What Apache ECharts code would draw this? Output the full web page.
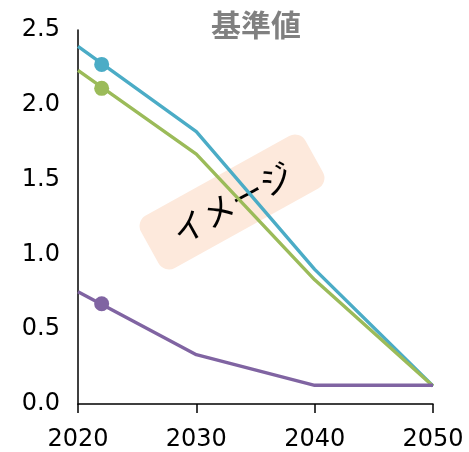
<!DOCTYPE html>
<html>
<head>
<meta charset="utf-8">
<script src="https://cdn.jsdelivr.net/npm/echarts@6/dist/echarts.min.js"></script>
<style>
    html, body { margin: 0; padding: 0; background: #ffffff; }
    #chart { width: 469px; height: 452px; }
</style>
</head>
<body>
<div id="chart"></div>
<script>
const years = [2020, 2030, 2040, 2050];
const blueValues = [2.39, 1.82, 0.9, 0.12];
const greenValues = [2.23, 1.67, 0.83, 0.12];
const purpleValues = [0.75, 0.33, 0.125, 0.125];

const markerYear = 2022;
const markerValues = [2.27, 2.11, 0.67];

const colors = ["#4bacc6", "#9bbb59", "#8064a2"];
const FONT = "DejaVu Sans, Verdana, sans-serif";

function toPairs(values) {
    return years.map((year, i) => [year, values[i]]);
}

function lineSeries(values, color) {
    return {
        type: "line",
        data: toPairs(values),
        symbol: "none",
        lineStyle: { color: color, width: 3.4 },
        itemStyle: { color: color },
        silent: true,
        z: 2,
    };
}

const chart = echarts.init(document.getElementById("chart"));

chart.setOption({
    backgroundColor: "#ffffff",
    animation: false,
    title: {
        text: "基準値",
        left: 251,
        top: 5,
        textAlign: "center",
        textStyle: {
            color: "#808080",
            fontSize: 30,
            fontWeight: "bold",
            fontFamily: "Noto Sans CJK JP",
        },
    },
    grid: { left: 78, right: 36, top: 30, bottom: 47 },
    xAxis: {
        type: "value",
        min: 2020,
        max: 2050,
        interval: 10,
        axisLine: { lineStyle: { color: "#000000", width: 1.5 } },
        axisTick: { show: true, length: 9, lineStyle: { color: "#000000", width: 1.5 } },
        axisLabel: {
            color: "#000000",
            fontSize: 24,
            fontFamily: FONT,
            margin: 24,
            formatter: (v) => String(v),
        },
        splitLine: { show: false },
    },
    yAxis: {
        type: "value",
        min: 0,
        max: 2.5,
        interval: 0.5,
        axisLine: { show: true, lineStyle: { color: "#000000", width: 1.5 } },
        axisTick: { show: false },
        axisLabel: {
            color: "#000000",
            fontSize: 24,
            fontFamily: FONT,
            margin: 18,
            formatter: (v) => v.toFixed(1),
        },
        splitLine: { show: false },
    },
    series: [
        lineSeries(blueValues, colors[0]),
        lineSeries(greenValues, colors[1]),
        lineSeries(purpleValues, colors[2]),
        {
            type: "scatter",
            symbol: "circle",
            symbolSize: 15,
            silent: true,
            z: 3,
            data: markerValues.map((v, i) => ({
                value: [markerYear, v],
                itemStyle: { color: colors[i], opacity: 1 },
            })),
        },
    ],
    graphic: [
        {
            type: "group",
            x: 232,
            y: 202,
            rotation: (29 * Math.PI) / 180,
            z: 10,
            children: [
                {
                    type: "rect",
                    shape: { x: -94, y: -30, width: 188, height: 60, r: 12 },
                    style: { fill: "#fde9dc" },
                },
                {
                    type: "text",
                    x: 0,
                    y: 1,
                    style: {
                        text: "イメージ",
                        fill: "#000000",
                        fontSize: 33,
                        fontWeight: "normal",
                        fontFamily: "Noto Sans CJK JP",
                        align: "center",
                        verticalAlign: "middle",
                    },
                },
            ],
        },
    ],
});
</script>
</body>
</html>
